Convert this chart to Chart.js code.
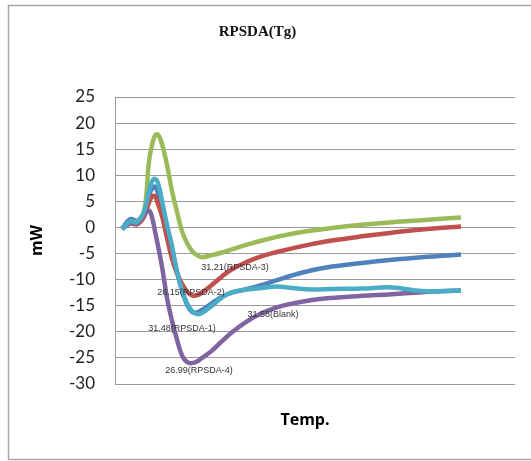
<!DOCTYPE html>
<html>
<head>
<meta charset="utf-8">
<script src="https://cdn.jsdelivr.net/npm/chart.js@4"></script>
<style>
  body { margin: 0; background: #fff; }
  #wrap { position: relative; width: 531px; height: 461px; }
</style>
</head>
<body>
<div id="wrap"><canvas id="dsc"></canvas></div>
<script>
// shared temperature grid (no tick labels are shown on the original)
const temp = [0, 8, 15, 22, 27, 30, 33, 36, 40, 45, 50, 55, 60, 65, 70, 75, 80, 90, 100, 110, 125, 140, 155, 170, 190, 210, 240, 270, 300, 339]

const rpsda1 = [-0.3, 1.6, 1.3, 2.5, 6, 7.5, 7.8, 6.5, 3.5, -0.5, -4.5, -8.5, -12, -14.8, -16.2, -16.3, -15.8, -14.5, -13.3, -12.5, -11.8, -11, -10.1, -9.2, -8.2, -7.5, -6.8, -6.2, -5.7, -5.2]
const rpsda2 = [-0.3, 0.8, 0.6, 2, 4.8, 5.9, 6, 4.5, 2.2, -2, -6, -8.8, -10.8, -12.3, -13, -13, -12.5, -11, -9.4, -8, -6.6, -5.5, -4.7, -4, -3.2, -2.5, -1.7, -1, -0.4, 0.2]
const rpsda3 = [-0.3, 0.8, 1.2, 3, 12.7, 15.8, 17.6, 17.8, 16, 12, 7, 3, -0.7, -3, -4.5, -5.3, -5.7, -5.3, -4.8, -4.2, -3.3, -2.5, -1.8, -1.2, -0.6, -0.1, 0.5, 1, 1.4, 1.9]
const rpsda4 = [-0.3, 0.8, 0.8, 2.5, 3.2, 2, -0.7, -3.5, -7.5, -13.5, -17.9, -21.5, -24.5, -25.8, -26, -25.7, -25, -23.6, -21.8, -20.1, -18, -16.4, -15.3, -14.6, -13.9, -13.5, -13.1, -12.8, -12.4, -12.1]
const blank = [-0.3, 1.2, 1.0, 3, 7, 8.8, 9.3, 8.5, 5.1, 0.5, -3.5, -8.5, -12, -14.5, -16, -16.6, -16.4, -15, -13.4, -12.4, -11.9, -11.6, -11.3, -11.6, -11.9, -11.8, -11.7, -11.5, -12.2, -12.1]

// peak annotations: text, temp, mW
const noteText = ["31.21(RPSDA-3)", "26.15(RPSDA-2)", "31.48(RPSDA-1)", "31.58(Blank)", "26.99(RPSDA-4)"]
const noteX = [113, 69, 60, 151, 77]
const noteY = [-7.7, -12.4, -19.3, -16.6, -27.5]

const yTicks = [25, 20, 15, 10, 5, 0, -5, -10, -15, -20, -25, -30]

function pts(vals){
  return temp.map((t, i) => ({x: t, y: vals[i]}))
}

function line(label, vals, color){
  return {
    label: label,
    data: pts(vals),
    borderColor: color,
    backgroundColor: color,
    borderWidth: 4.5,
    pointRadius: 0,
    tension: 0.4,
    fill: false,
  }
}

const frame = {
  id: 'frame',
  beforeDraw(chart){
    const ctx = chart.ctx
    ctx.save()
    ctx.strokeStyle = '#a6a6a6'
    ctx.lineWidth = 1.5
    ctx.strokeRect(8.5, 5.5, 560, 454)
    ctx.restore()
  },
  afterDraw(chart){
    const ctx = chart.ctx
    const xs = chart.scales.x
    const ys = chart.scales.y
    ctx.save()
    ctx.fillStyle = '#333'
    ctx.font = '9px "Liberation Sans"'
    ctx.textAlign = 'center'
    ctx.textBaseline = 'middle'
    noteText.forEach((t, i) => {
      ctx.fillText(t, xs.getPixelForValue(noteX[i]), ys.getPixelForValue(noteY[i]))
    })
    ctx.fillStyle = '#000'
    ctx.font = 'bold 16px "Open Sans"'
    ctx.fillText('Temp.', (chart.chartArea.left + chart.chartArea.right) / 2 - 10, 420)
    ctx.restore()
  }
}

new Chart(document.querySelector('#dsc'), {
  type: 'line',
  plugins: [frame],
  data: {
    datasets: [
      line('Blank', blank, '#4bacc6'),
      line('RPSDA-4', rpsda4, '#8064a2'),
      line('RPSDA-3', rpsda3, '#9bbb59'),
      line('RPSDA-2', rpsda2, '#c0504d'),
      line('RPSDA-1', rpsda1, '#4f81bd'),
    ]
  },
  options: {
    responsive: true,
    maintainAspectRatio: false,
    animation: false,
    layout: {
      padding: {left: 0, right: 16, top: 0, bottom: 77}
    },
    scales: {
      x: {
        type: 'linear',
        display: false,
        min: -7,
        max: 393,
      },
      y: {
        min: -30,
        max: 25,
        afterBuildTicks(scale){
          scale.ticks = yTicks.map((v) => ({value: v}))
        },
        afterFit(scale){
          scale.width = 115
        },
        grid: {
          color: '#9a9a9a',
          lineWidth: 1,
          drawTicks: false,
        },
        border: {
          display: true,
          color: '#9a9a9a',
        },
        ticks: {
          padding: 20,
          color: '#222',
          font: {family: 'Lato', size: 17},
        },
        title: {
          display: true,
          text: 'mW',
          color: '#000',
          font: {family: 'Open Sans', size: 16, weight: 'bold'},
          padding: {top: 28, bottom: 0},
        }
      }
    },
    plugins: {
      legend: {display: false},
      tooltip: {enabled: false},
      title: {
        display: true,
        text: 'RPSDA(Tg)',
        color: '#111',
        font: {family: 'Liberation Serif', size: 15, weight: 'bold'},
        padding: {top: 23, bottom: 56},
      }
    }
  }
})
</script>
</body>
</html>
